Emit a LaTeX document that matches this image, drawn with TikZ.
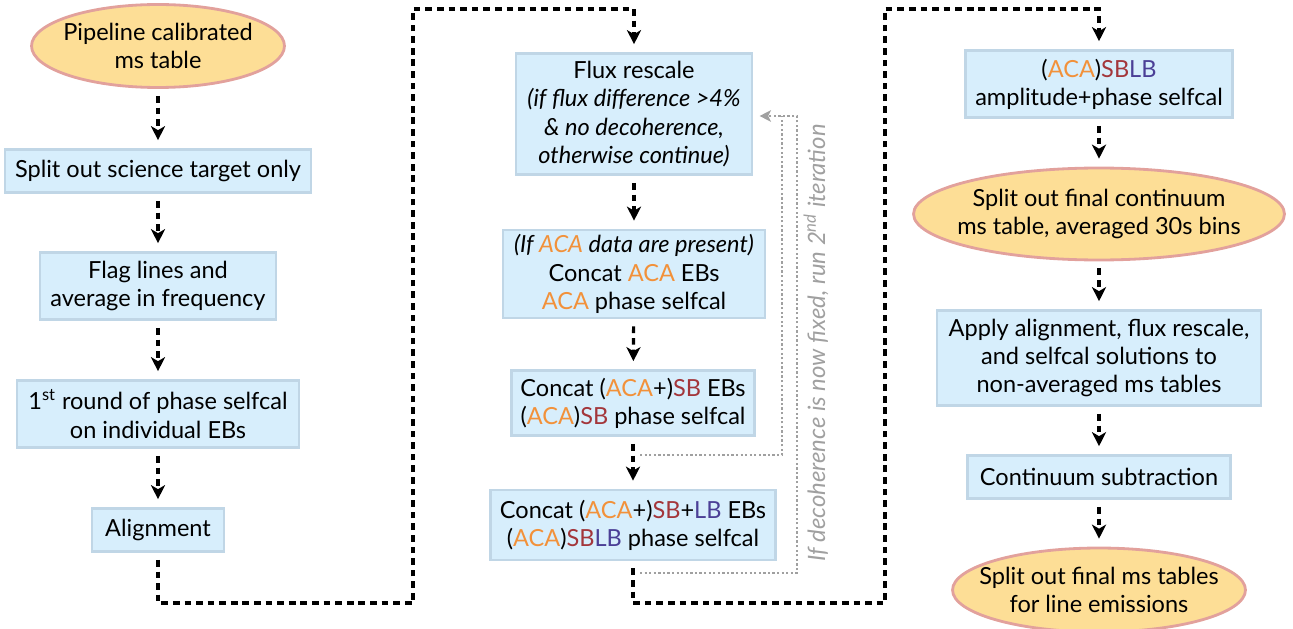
\documentclass[tikz,border=0pt]{standalone}
\usepackage{fontspec}
\setmainfont{Lato}
\usetikzlibrary{shapes.geometric,arrows.meta}

\definecolor{boxfill}{HTML}{D7EEFC}
\definecolor{boxline}{HTML}{C0D6E6}
\definecolor{ovalfill}{HTML}{FDDE96}
\definecolor{ovalline}{HTML}{E2A19C}
\definecolor{acacol}{HTML}{F2913A}
\definecolor{sbcol}{HTML}{A3363B}
\definecolor{lbcol}{HTML}{4B3F96}
\definecolor{loopgray}{HTML}{A0A0A0}

\newcommand{\ACA}{\textcolor{acacol}{ACA}}
\newcommand{\SBt}{\textcolor{sbcol}{SB}}
\newcommand{\LBt}{\textcolor{lbcol}{LB}}

\tikzset{
  stepbox/.style={draw=boxline, fill=boxfill, line width=1.6pt, align=center, inner sep=0pt},
  endoval/.style={ellipse, draw=ovalline, fill=ovalfill, line width=1.6pt, align=center,
    inner xsep=-40pt, inner ysep=-15pt},
  link/.style={line width=1.8pt, dash pattern=on 3.8pt off 2.8pt, -{Stealth[length=8pt,width=8pt,inset=2.3pt]},
    shorten <=4pt, shorten >=4.5pt},
  back/.style={loopgray, line width=1.4pt, dash pattern=on 1.3pt off 1.3pt}
}

\begin{document}
\begin{tikzpicture}[x=0.02cm, y=-0.02cm, font=\fontsize{13.4}{16}\selectfont]
\useasboundingbox (0,0) rectangle (1293,628);

% left column
\node[endoval, minimum width=5.06cm, minimum height=1.66cm] (pipe) at (158,46) {Pipeline calibrated\\ms table};
\node[stepbox, minimum width=6.12cm, minimum height=0.86cm] (split) at (158,171) {Split out science target only};
\node[stepbox, minimum width=4.72cm, minimum height=1.34cm] (flag) at (158,286) {Flag lines and\\average in frequency};
\node[stepbox, minimum width=5.64cm, minimum height=1.34cm] (round) at (158,414) {1\textsuperscript{st} round of phase selfcal\\on individual EBs};
\node[stepbox, minimum width=2.64cm, minimum height=0.86cm] (align) at (158,530) {Alignment};

% middle column
\node[stepbox, minimum width=4.72cm, minimum height=2.42cm] (flux) at (634,114) {Flux rescale\\\textit{(if flux difference >4\%}\\\textit{\& no decoherence,}\\\textit{otherwise continue)}};
\node[stepbox, minimum width=5.24cm, minimum height=1.76cm] (aca) at (634,274) {\textit{(If \ACA\ data are present)}\\Concat \ACA\ EBs\\\ACA\ phase selfcal};
\node[stepbox, minimum width=4.86cm, minimum height=1.30cm] (sb) at (633,403) {Concat (\ACA+)\SBt\ EBs\\(\ACA)\SBt\ phase selfcal};
\node[stepbox, minimum width=5.70cm, minimum height=1.40cm] (sblb) at (633,525) {Concat (\ACA+)\SBt+\LBt\ EBs\\(\ACA)\SBt\LBt\ phase selfcal};

% right column
\node[stepbox, minimum width=5.34cm, minimum height=1.34cm] (amp) at (1099,84) {(\ACA)\SBt\LBt\\amplitude+phase selfcal};
\node[endoval, minimum width=7.42cm, minimum height=1.84cm] (contin) at (1099,214) {Split out final continuum\\ms table, averaged 30s bins};
\node[stepbox, minimum width=6.48cm, minimum height=1.90cm] (apply) at (1099,358) {Apply alignment, flux rescale,\\and selfcal solutions to\\non-averaged ms tables};
\node[stepbox, minimum width=5.26cm, minimum height=0.86cm] (contsub) at (1099,477) {Continuum subtraction};
\node[endoval, minimum width=5.86cm, minimum height=1.68cm] (lines) at (1099,590) {Split out final ms tables\\for line emissions};

% corners of the long connectors
\coordinate (c1b) at (413,603);
\coordinate (c1c) at (413,9);
\coordinate (c2b) at (885,603);
\coordinate (c2c) at (885,9);

\draw[link] (pipe) -- (split);
\draw[link] (split) -- (flag);
\draw[link] (flag) -- (round);
\draw[link] (round) -- (align);
\draw[link] (align.south) |- (c1b) -- (c1c) -| (flux.north);
\draw[link] (flux) -- (aca);
\draw[link] (aca) -- (sb);
\draw[link] (sb) -- (sblb);
\draw[link] (sblb.south) |- (c2b) -- (c2c) -| (amp.north);
\draw[link] (amp) -- (contin);
\draw[link] (contin) -- (apply);
\draw[link] (apply) -- (contsub);
\draw[link] (contsub) -- (lines);

% second iteration loop
\coordinate (loopa) at (640,455);
\coordinate (loopb) at (640,573);
\coordinate (risea) at (782,116);
\coordinate (riseb) at (797,116);
\draw[back] (loopa) -| (risea);
\draw[back, -{Stealth[length=6.5pt,width=6.5pt,inset=1.6pt]}, shorten >=3.5pt] (loopb) -| (riseb) -- (riseb -| flux.east);
\node[loopgray, rotate=90, font=\fontsize{13.6}{16}\selectfont\itshape] (loopnote) at (816,343)
  {If decoherence is now fixed, run 2\textsuperscript{nd} iteration};
\end{tikzpicture}
\end{document}
